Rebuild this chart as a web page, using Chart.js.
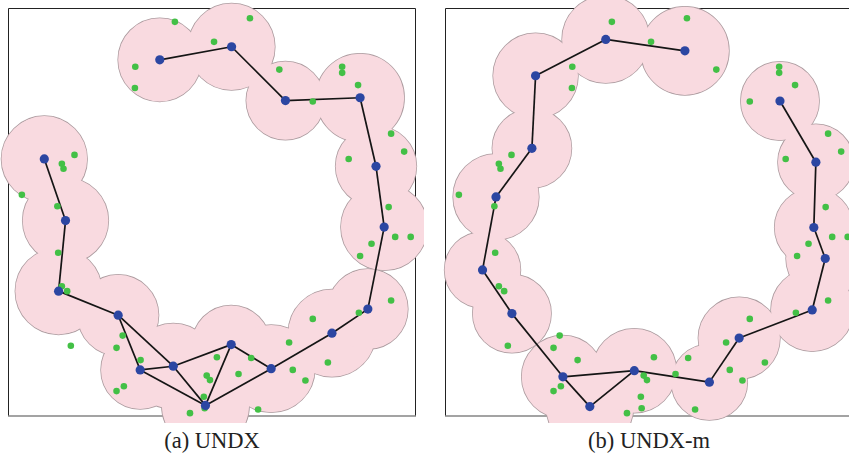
<!DOCTYPE html>
<html>
<head>
<meta charset="utf-8">
<script src="https://cdn.jsdelivr.net/npm/chart.js@4/dist/chart.umd.min.js"></script>
<style>
  html, body { margin: 0; padding: 0; background: #fff; overflow: hidden; width: 849px; height: 456px; }
  .panel { position: absolute; top: 0; width: 424px; height: 423px; }
  .panel canvas { display: block; }
  .cap { position: absolute; top: 430px; width: 424px; text-align: center;
         font-family: "Liberation Serif", "Times New Roman", serif; font-size: 22.5px;
         line-height: 22px; color: #222; }
</style>
</head>
<body>
<div class="panel" style="left:0px"><canvas id="chartA" width="424" height="423"></canvas></div>
<div class="cap" style="left:0px">(a) UNDX</div>
<div class="panel" style="left:437px"><canvas id="chartB" width="424" height="423"></canvas></div>
<div class="cap" style="left:437px">(b) UNDX-m</div>

<script>
// Search space is 0..100 on both axes.

// (a) UNDX: niche centres, niche radii and links between centres
const undxX = [8.9, 14.1, 12.4, 27.0, 32.4, 40.5, 48.4, 54.7, 64.5, 79.4, 88.2, 92.2, 90.2, 86.3, 68.0, 54.8, 37.2];
const undxY = [63.0, 47.9, 30.6, 24.7, 11.3, 12.2, 2.6, 17.5, 11.6, 20.3, 26.2, 46.3, 61.2, 78.0, 77.3, 90.5, 87.3];
const undxR = [10.5, 10.5, 10.6, 9.9, 9.6, 10.5, 10.7, 9.6, 10.7, 10.7, 9.8, 10.6, 9.9, 10.8, 9.6, 10.6, 10.2];
const undxLinks = [[0,1],[1,2],[2,3],[3,4],[3,5],[4,5],[4,6],[5,6],[5,7],[7,6],[7,8],[6,8],
                   [8,9],[9,10],[10,11],[11,12],[12,13],[13,14],[14,15],[15,16]];

// (b) UNDX-m
const undxmX = [58.8, 39.4, 22.2, 21.3, 12.5, 9.2, 16.4, 28.9, 35.5, 46.4, 64.8, 72.1, 90.0, 93.2, 90.4, 90.9, 82.1];
const undxmY = [89.5, 92.3, 83.4, 65.6, 53.7, 35.8, 25.1, 9.6, 2.3, 11.1, 8.3, 19.1, 26.0, 38.6, 46.2, 62.2, 77.2];
const undxmR = [10.8, 10.7, 10.4, 9.7, 10.5, 9.3, 9.6, 10.1, 10.7, 10.3, 9.3, 10.0, 10.1, 9.6, 9.6, 9.3, 9.6];
const undxmLinks = [[0,1],[1,2],[2,3],[3,4],[4,5],[5,6],[6,7],[7,8],[8,9],[7,9],
                    [9,10],[10,11],[11,12],[12,13],[13,14],[14,15],[15,16]];

// Reference optima (same set in both panels)
const optX = [40.9, 31.2, 31.1, 16.3, 13.2, 13.6, 3.4, 12.1, 59.3, 50.5, 66.5, 81.9, 81.9, 85.8, 74.7, 93.9,
              97.1, 83.5, 93.3, 94.9, 98.7, 89.1, 86.3, 93.9, 86.0, 74.7, 68.9, 78.4, 69.8, 72.9, 59.6, 56.5,
              51.2, 48.7, 49.5, 48.0, 48.2, 61.3, 12.3, 13.2, 14.5, 15.4, 28.1, 26.6, 32.5, 28.4, 26.6, 44.6];
const optY = [96.6, 85.6, 80.4, 64.0, 61.8, 60.6, 54.2, 51.4, 97.5, 91.7, 84.9, 85.6, 84.1, 81.1, 77.1, 69.2,
              64.8, 63.0, 51.2, 43.9, 43.9, 42.2, 39.2, 28.3, 25.3, 23.8, 18.0, 13.1, 11.3, 8.7, 14.2, 10.3,
              14.4, 9.9, 8.8, 4.7, 1.9, 1.6, 40.0, 31.8, 30.6, 17.2, 19.7, 16.7, 13.7, 7.3, 6.1, 0.7];

// Frame plus the union of niche circles, drawn beneath the datasets
const nichePlugin = {
  id: 'niches',
  beforeDatasetsDraw(chart, args, opts) {
    const { ctx, chartArea: a, scales: { x, y } } = chart;
    ctx.save();
    // frame
    ctx.lineWidth = 1;
    ctx.strokeStyle = '#222';
    ctx.beginPath();
    ctx.moveTo(a.left + 0.5, a.bottom);
    ctx.lineTo(a.left + 0.5, a.top + 0.5);
    ctx.lineTo(a.right - 0.5, a.top + 0.5);
    ctx.lineTo(a.right - 0.5, a.bottom);
    ctx.stroke();
    ctx.strokeStyle = '#858585';
    ctx.lineWidth = 1.6;
    ctx.beginPath();
    ctx.moveTo(a.left, a.bottom);
    ctx.lineTo(a.right, a.bottom);
    ctx.stroke();

    const unit = x.getPixelForValue(1) - x.getPixelForValue(0);
    const circles = opts.cx.map((v, i) => [x.getPixelForValue(v), y.getPixelForValue(opts.cy[i]), opts.r[i] * unit]);
    // outline pass, then fill pass so only the outer boundary stays visible
    ctx.strokeStyle = '#ad9ca0';
    ctx.lineWidth = 1.5;
    circles.forEach(([px, py, pr]) => {
      ctx.beginPath(); ctx.arc(px, py, pr, 0, Math.PI * 2); ctx.stroke();
    });
    ctx.fillStyle = '#f9dae0';
    circles.forEach(([px, py, pr]) => {
      ctx.beginPath(); ctx.arc(px, py, pr, 0, Math.PI * 2); ctx.fill();
    });
    ctx.restore();
  }
};

function buildChart(canvasId, cx, cy, cr, links) {
  const datasets = [];
  datasets.push({
    label: 'centres', data: cx.map((v, i) => ({ x: v, y: cy[i] })),
    pointRadius: 4.6, pointBackgroundColor: '#2c46a2', pointBorderWidth: 0,
    showLine: false, order: 0, clip: false
  });
  datasets.push({
    label: 'optima', data: optX.map((v, i) => ({ x: v, y: optY[i] })),
    pointRadius: 3.3, pointBackgroundColor: '#43c046', pointBorderWidth: 0,
    showLine: false, order: 1, clip: false
  });
  links.forEach(([i, j]) => {
    datasets.push({
      label: 'link', data: [{ x: cx[i], y: cy[i] }, { x: cx[j], y: cy[j] }],
      showLine: true, borderColor: '#151515', borderWidth: 1.7, pointRadius: 0,
      order: 2, clip: false
    });
  });
  return new Chart(document.getElementById(canvasId), {
    type: 'scatter',
    data: { datasets },
    options: {
      responsive: false, animation: false, devicePixelRatio: 1,
      layout: { padding: { left: 8, top: 8, right: 8, bottom: 7 } },
      scales: {
        x: { type: 'linear', min: 0, max: 100, display: false },
        y: { type: 'linear', min: 0, max: 100, display: false }
      },
      plugins: {
        legend: { display: false }, tooltip: { enabled: false },
        niches: { cx, cy, r: cr }
      },
      events: []
    },
    plugins: [nichePlugin]
  });
}

buildChart('chartA', undxX, undxY, undxR, undxLinks);
buildChart('chartB', undxmX, undxmY, undxmR, undxmLinks);
</script>
</body>
</html>
